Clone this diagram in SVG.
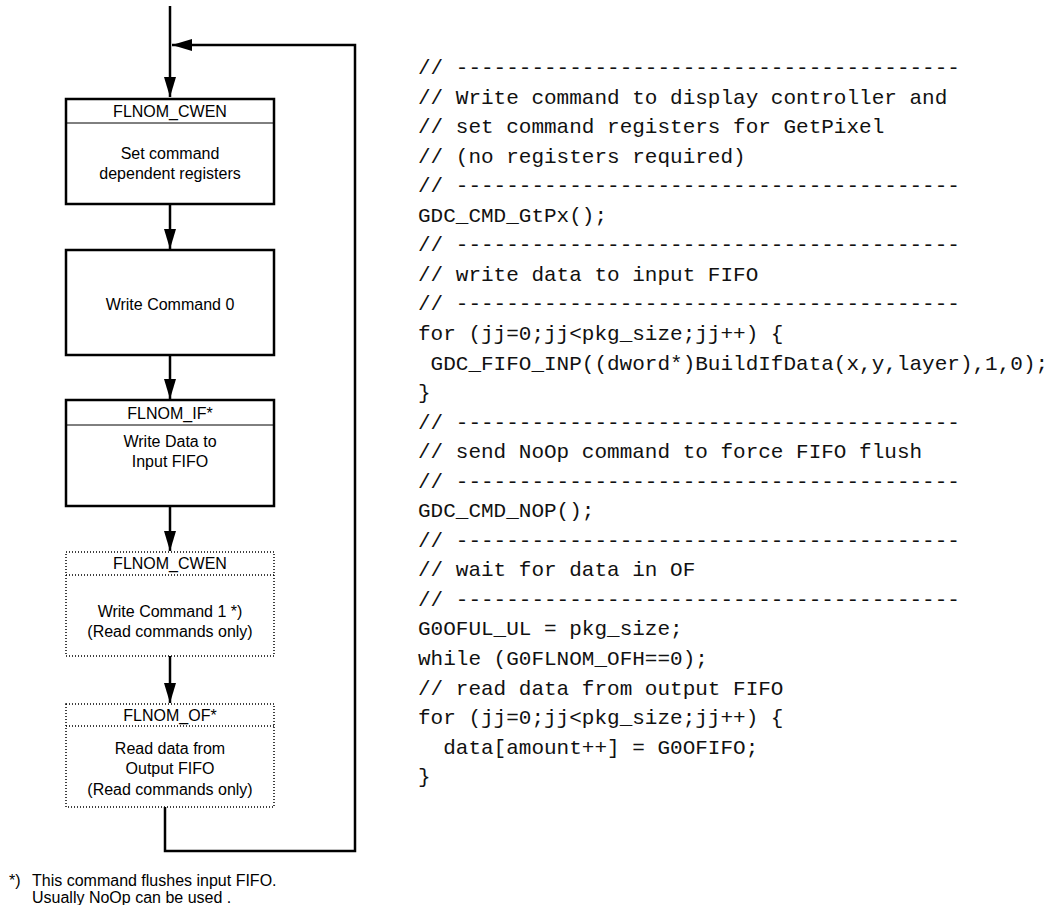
<svg xmlns="http://www.w3.org/2000/svg" width="1058" height="905" viewBox="0 0 1058 905">
<style>
.box{fill:#fff;stroke:#000;stroke-width:2.5}
.dbox{fill:#fff;stroke:#000;stroke-width:1.5;stroke-dasharray:1 2}
.div{stroke:#000;stroke-width:1}
.ddiv{stroke:#000;stroke-width:1.5;stroke-dasharray:1 2}
.lbl{font-family:"Liberation Sans",Arial,sans-serif;font-size:16px;fill:#000;text-anchor:middle}
.note{font-family:"Liberation Sans",Arial,sans-serif;font-size:16px;fill:#000}
.code{font-family:"Liberation Mono","Courier New",monospace;font-size:21px;fill:#111}
.wire{fill:none;stroke:#000;stroke-width:2.5}
</style>
<defs>
<marker id="ah" markerWidth="20" markerHeight="12" refX="20" refY="6" orient="auto" markerUnits="userSpaceOnUse">
<path d="M0,0 L20,6 L0,12 Z" fill="#000"/>
</marker>
</defs>

<g id="connectors">
<line class="wire" x1="170" y1="6" x2="170" y2="97" marker-end="url(#ah)"/>
<line class="wire" x1="170" y1="204" x2="170" y2="249" marker-end="url(#ah)"/>
<line class="wire" x1="170" y1="355" x2="170" y2="399" marker-end="url(#ah)"/>
<line class="wire" x1="170" y1="506" x2="170" y2="551" marker-end="url(#ah)"/>
<line class="wire" x1="170" y1="656" x2="170" y2="703" marker-end="url(#ah)"/>
<path class="wire" d="M165,807 L165,851 L355,851 L355,45 L172,45" marker-end="url(#ah)"/>
</g>

<g id="node-cwen1">
<rect class="box" x="66" y="99" width="208" height="105"/>
<line class="div" x1="66" y1="123" x2="274" y2="123"/>
<text class="lbl" x="170" y="117">FLNOM_CWEN</text>
<text class="lbl" x="170" y="159">Set command</text>
<text class="lbl" x="170" y="179">dependent registers</text>
</g>

<g id="node-cmd0">
<rect class="box" x="66" y="250" width="208" height="105"/>
<text class="lbl" x="170" y="310">Write Command 0</text>
</g>

<g id="node-if">
<rect class="box" x="66" y="400" width="208" height="106"/>
<line class="div" x1="66" y1="425" x2="274" y2="425"/>
<text class="lbl" x="170" y="419">FLNOM_IF*</text>
<text class="lbl" x="170" y="447">Write Data to</text>
<text class="lbl" x="170" y="467">Input FIFO</text>
</g>

<g id="node-cwen2">
<rect class="dbox" x="66" y="552" width="208" height="104"/>
<line class="ddiv" x1="66" y1="575" x2="274" y2="575"/>
<text class="lbl" x="170" y="569">FLNOM_CWEN</text>
<text class="lbl" x="170" y="617">Write Command 1 *)</text>
<text class="lbl" x="170" y="637">(Read commands only)</text>
</g>

<g id="node-of">
<rect class="dbox" x="66" y="704" width="208" height="103"/>
<line class="ddiv" x1="66" y1="726" x2="274" y2="726"/>
<text class="lbl" x="170" y="721">FLNOM_OF*</text>
<text class="lbl" x="170" y="754">Read data from</text>
<text class="lbl" x="170" y="774">Output FIFO</text>
<text class="lbl" x="170" y="795">(Read commands only)</text>
</g>

<g id="footnote">
<text class="note" x="9" y="886">*)</text>
<text class="note" x="32" y="886">This command flushes input FIFO.</text>
<text class="note" x="32" y="903">Usually NoOp can be used .</text>
</g>

<g id="code">
<text class="code" x="418" y="74">// ----------------------------------------</text>
<text class="code" x="418" y="103.5">// Write command to display controller and</text>
<text class="code" x="418" y="133.1">// set command registers for GetPixel</text>
<text class="code" x="418" y="162.6">// (no registers required)</text>
<text class="code" x="418" y="192.2">// ----------------------------------------</text>
<text class="code" x="418" y="221.7">GDC_CMD_GtPx();</text>
<text class="code" x="418" y="251.3">// ----------------------------------------</text>
<text class="code" x="418" y="280.8">// write data to input FIFO</text>
<text class="code" x="418" y="310.4">// ----------------------------------------</text>
<text class="code" x="418" y="339.9">for (jj=0;jj&lt;pkg_size;jj++) {</text>
<text class="code" x="430.6" y="369.5">GDC_FIFO_INP((dword*)BuildIfData(x,y,layer),1,0);</text>
<text class="code" x="418" y="399">}</text>
<text class="code" x="418" y="428.6">// ----------------------------------------</text>
<text class="code" x="418" y="458.1">// send NoOp command to force FIFO flush</text>
<text class="code" x="418" y="487.7">// ----------------------------------------</text>
<text class="code" x="418" y="517.2">GDC_CMD_NOP();</text>
<text class="code" x="418" y="546.8">// ----------------------------------------</text>
<text class="code" x="418" y="576.3">// wait for data in OF</text>
<text class="code" x="418" y="605.9">// ----------------------------------------</text>
<text class="code" x="418" y="635.4">G0OFUL_UL = pkg_size;</text>
<text class="code" x="418" y="665">while (G0FLNOM_OFH==0);</text>
<text class="code" x="418" y="694.5">// read data from output FIFO</text>
<text class="code" x="418" y="724.1">for (jj=0;jj&lt;pkg_size;jj++) {</text>
<text class="code" x="443.2" y="753.6">data[amount++] = G0OFIFO;</text>
<text class="code" x="418" y="783.2">}</text>
</g>
</svg>
